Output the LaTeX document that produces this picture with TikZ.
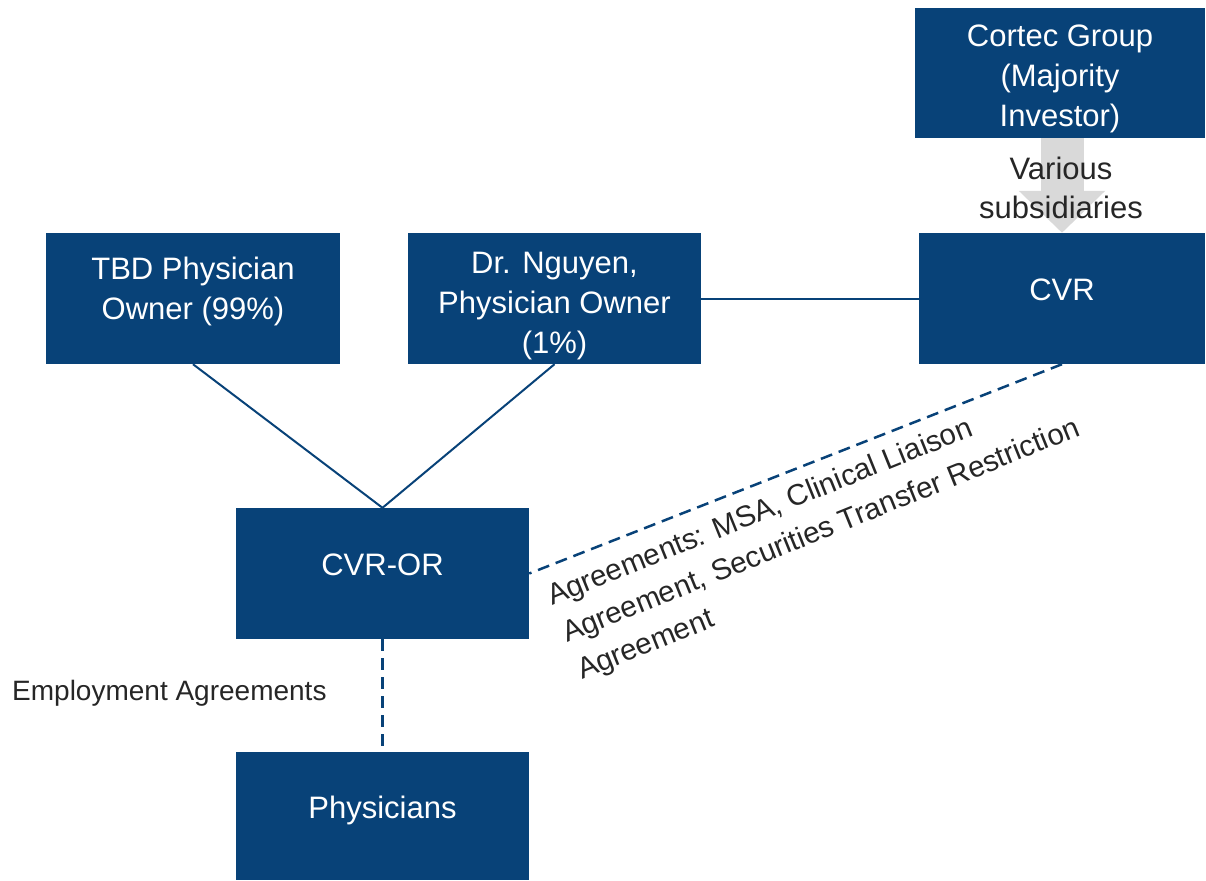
\documentclass[tikz,border=0pt]{standalone}
\usepackage{fontspec}
\setmainfont{Liberation Sans}
\usetikzlibrary{arrows.meta,calc}
\definecolor{boxblue}{RGB}{8,66,120}
\definecolor{txtgray}{RGB}{38,38,38}
\definecolor{arrgray}{RGB}{217,217,217}
\tikzset{
  box/.style={draw=none, fill=boxblue, rectangle, inner sep=0pt},
  boxtext/.style={text=white, align=center, inner sep=0pt, font=\fontsize{31}{40}\selectfont},
  lbl/.style={text=txtgray, inner sep=0pt, font=\fontsize{28}{39}\selectfont},
  solidconn/.style={draw=boxblue, line width=2pt},
  dashconn/.style={draw=boxblue, line width=2.5pt, dash pattern=on 12pt off 7pt},
}
\begin{document}
\begin{tikzpicture}[x=1pt,y=-1pt]
\useasboundingbox (0,0) rectangle (1206,880);
% boxes
\node[box, minimum width=290pt, minimum height=130pt] (cortec) at (1060,73) {};
\node[box, minimum width=294pt, minimum height=131pt] (tbd) at (193,298.5) {};
\node[box, minimum width=293pt, minimum height=131pt] (nguyen) at (554.5,298.5) {};
\node[box, minimum width=286pt, minimum height=131pt] (cvr) at (1062,298.5) {};
\node[box, minimum width=293pt, minimum height=131pt] (cvror) at (382.5,573.5) {};
\node[box, minimum width=293pt, minimum height=128pt] (phys) at (382.5,816) {};
% box texts (base anchor = baseline of last line)
\node[boxtext, anchor=base] (cortect) at (1060,127) {Cortec Group\\(Majority\\Investor)};
\node[boxtext, anchor=base] (tbdt) at (193,319) {TBD Physician\\Owner (99\%)};
\node[boxtext, anchor=base] (nguyent) at (554.5,353) {Dr. Nguyen,\\Physician Owner\\(1\%)};
\node[boxtext, anchor=base] (cvrt) at (1062,300) {CVR};
\node[boxtext, anchor=base] (cvrort) at (382.5,575) {CVR-OR};
\node[boxtext, anchor=base] (physt) at (382.5,818) {Physicians};
% gray arrow
\draw[draw=arrgray, line width=43pt, -{Triangle[width=84pt,length=42pt]}] (cortec.south -| cvr.north) -- (cvr.north);
\node[lbl, align=center, anchor=base, font=\fontsize{31}{39}\selectfont] (various) at (1061,218) {Various\\subsidiaries};
% connectors
\draw[solidconn] (tbd.south) -- (cvror.north);
\draw[solidconn] (nguyen.south) -- (cvror.north);
\draw[solidconn] (nguyen.east) -- (cvr.west);
\draw[dashconn] (cvr.south) -- (cvror.east);
\draw[dashconn] (cvror.south) -- (phys.north);
% labels
\node[lbl, anchor=base west] (emp) at (12,700) {Employment Agreements};
\node[lbl, align=left, anchor=base west, rotate=22, font=\fontsize{29.5}{40}\selectfont] (agr) at (582,680) {Agreements: MSA, Clinical Liaison\\Agreement, Securities Transfer Restriction\\Agreement};
\end{tikzpicture}
\end{document}
